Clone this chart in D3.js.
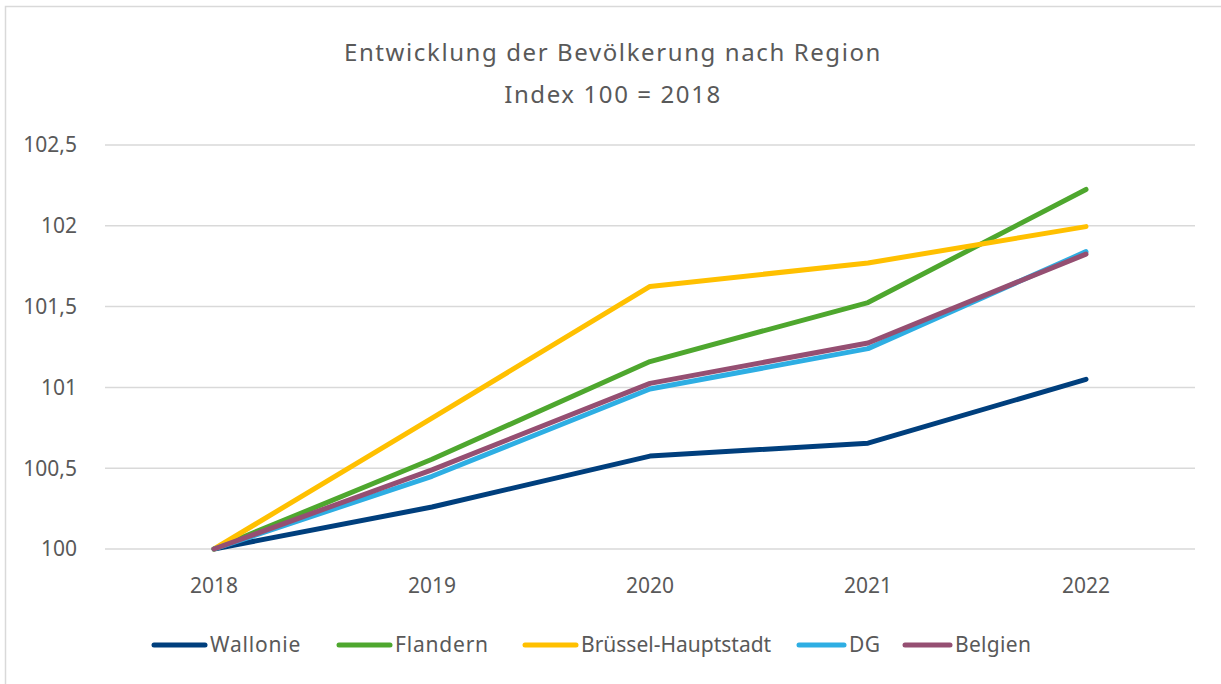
<!DOCTYPE html>
<html lang="de">
<head>
<meta charset="UTF-8">
<title>Entwicklung der Bevölkerung nach Region</title>
<script src="https://cdn.jsdelivr.net/npm/d3@7"></script>
<style>
	body { margin: 0; background: #fff; }
	text { font-family: "Noto Sans", "Open Sans", sans-serif; fill: #595959; }
</style>
</head>
<body>
<script>
	// data
	const years = ['2018', '2019', '2020', '2021', '2022']
	const wallonie = [100, 100.26, 100.575, 100.655, 101.05]
	const flandern = [100, 100.555, 101.16, 101.525, 102.225]
	const bruessel = [100, 100.81, 101.625, 101.77, 101.995]
	const dg = [100, 100.45, 100.99, 101.24, 101.84]
	const belgien = [100, 100.49, 101.025, 101.275, 101.825]
	const yTicks = [100, 100.5, 101, 101.5, 102, 102.5]

	const series = [
		{ name: 'Wallonie', values: wallonie, color: '#003f7d' },
		{ name: 'Flandern', values: flandern, color: '#4ea72e' },
		{ name: 'Brüssel-Hauptstadt', values: bruessel, color: '#ffc000' },
		{ name: 'DG', values: dg, color: '#2eaee3' },
		{ name: 'Belgien', values: belgien, color: '#954f72' }
	]

	const W = 1221, H = 684
	const svg = d3.select('body').append('svg')
		.attr('width', W)
		.attr('height', H)

	// chart frame
	svg.append('rect')
		.attr('x', 5.5).attr('y', 6.5)
		.attr('width', W + 10).attr('height', H + 10)
		.attr('fill', 'none')
		.attr('stroke', '#d9d9d9')
		.attr('stroke-width', 1.5)

	svg.append('text')
		.attr('x', 613).attr('y', 61)
		.attr('text-anchor', 'middle')
		.attr('font-size', 24)
		.attr('letter-spacing', 1.6)
		.text('Entwicklung der Bevölkerung nach Region')
	svg.append('text')
		.attr('x', 613).attr('y', 103)
		.attr('text-anchor', 'middle')
		.attr('font-size', 24)
		.attr('letter-spacing', 1.6)
		.text('Index 100 = 2018')

	const x = d3.scalePoint()
		.domain(years)
		.range([105, 1195])
		.padding(0.5)

	const y = d3.scaleLinear()
		.domain([100, 102.5])
		.range([549, 145])

	// grid
	svg.append('g')
		.selectAll('line')
		.data(yTicks)
		.enter()
		.append('line')
		.attr('x1', 105).attr('x2', 1195)
		.attr('y1', d => y(d)).attr('y2', d => y(d))
		.attr('stroke', '#d9d9d9')
		.attr('stroke-width', 1.5)

	const fmt = d => String(d).replace('.', ',')

	svg.append('g')
		.selectAll('text')
		.data(yTicks)
		.enter()
		.append('text')
		.attr('x', 77)
		.attr('y', d => y(d))
		.attr('dy', '0.35em')
		.attr('text-anchor', 'end')
		.attr('font-size', 21)
		.text(fmt)

	svg.append('g')
		.selectAll('text')
		.data(years)
		.enter()
		.append('text')
		.attr('x', d => x(d))
		.attr('y', 593)
		.attr('text-anchor', 'middle')
		.attr('font-size', 21)
		.text(d => d)

	const line = d3.line()
		.x((d, i) => x(years[i]))
		.y(d => y(d))

	svg.append('g')
		.selectAll('path')
		.data(series)
		.enter()
		.append('path')
		.attr('d', d => line(d.values))
		.attr('fill', 'none')
		.attr('stroke', d => d.color)
		.attr('stroke-width', 5)
		.attr('stroke-linecap', 'round')
		.attr('stroke-linejoin', 'round')

	// legend
	const legX = [154, 339, 525, 799, 905]
	const legSpacing = [0.8, 0.8, 0, 0.3, 0.3]
	const leg = svg.append('g')
		.selectAll('g')
		.data(series)
		.enter()
		.append('g')
		.attr('transform', (d, i) => `translate(${legX[i]},645)`)
	leg.append('line')
		.attr('x1', 0).attr('x2', (d, i) => i < 3 ? 51 : 45)
		.attr('stroke', d => d.color)
		.attr('stroke-width', 5)
		.attr('stroke-linecap', 'round')
	leg.append('text')
		.attr('x', (d, i) => i < 3 ? 56 : 50)
		.attr('dy', '0.35em')
		.attr('font-size', 21)
		.attr('letter-spacing', (d, i) => legSpacing[i])
		.text(d => d.name)
</script>
</body>
</html>
